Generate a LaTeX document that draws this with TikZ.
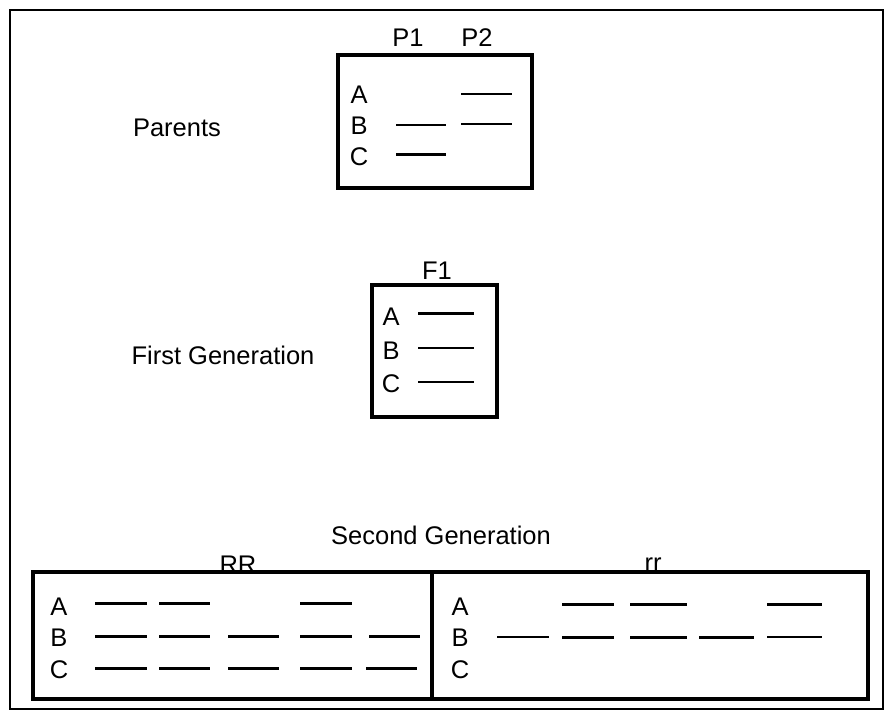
\documentclass[tikz,border=0pt]{standalone}
\usepackage{fontspec}
\setmainfont{Liberation Sans}
\begin{document}
\begin{tikzpicture}[x=1pt,y=-1pt,
  lbl/.style={inner sep=0pt,font=\fontsize{25.5}{28}\selectfont},
  boxline/.style={line width=3.2pt},
  seg/.style={line width=3pt},
  thinseg/.style={line width=2.1pt}]
\useasboundingbox (0,0) rectangle (885,712);
% outer frame
\draw[line width=2.4pt] (10,10) rectangle (883,709);
% Parents
\node[lbl] (parents) at (177,128) {Parents};
\draw[boxline] (338,55) rectangle (532,188);
\node[lbl] (p1) at (408,38) {P1};
\node[lbl] (p2) at (477,38) {P2};
\node[lbl] (pa) at (359,95) {A};
\node[lbl] (pb) at (359,126) {B};
\node[lbl] (pc) at (359,157) {C};
\draw[thinseg] (461,94) -- (512,94);
\draw[thinseg] (461,124) -- (512,124);
\draw[thinseg] (396,125) -- (446,125);
\draw[seg] (396,154) -- (446,154);
% First generation
\node[lbl] (first) at (223,355) {First Generation};
\draw[boxline] (372,285) rectangle (497,417);
\node[lbl] (f1) at (437,271) {F1};
\node[lbl] (fa) at (391,317) {A};
\node[lbl] (fb) at (391,351) {B};
\node[lbl] (fc) at (391,384) {C};
\draw[seg] (418,313) -- (474,313);
\draw[thinseg] (418,348) -- (474,348);
\draw[thinseg] (418,382) -- (474,382);
% Second generation
\node[lbl] (second) at (441,535) {Second Generation};
\node[lbl] (rr1) at (238,565) {RR};
\node[lbl] (rr2) at (653,565) {rr};
\draw[boxline] (33,572) rectangle (868,699);
\draw[boxline] (432,572) -- (432,699);
% RR box
\node[lbl] (ra) at (59,607) {A};
\node[lbl] (rb) at (59,638) {B};
\node[lbl] (rc) at (59,670) {C};
\foreach \a/\b in {95/147,159/210,300/352}
  \draw[seg] (\a,603) -- (\b,603);
\foreach \a/\b in {95/147,159/210,228/279,300/352,369/420}
  \draw[seg] (\a,636) -- (\b,636);
\foreach \a/\b in {95/147,159/210,228/279,300/352,366/417}
  \draw[seg] (\a,668) -- (\b,668);
% rr box
\node[lbl] (sa) at (460,607) {A};
\node[lbl] (sb) at (460,638) {B};
\node[lbl] (sc) at (460,670) {C};
\foreach \a/\b in {562/614,630/687,767/822}
  \draw[seg] (\a,604) -- (\b,604);
\draw[thinseg] (497,637) -- (549,637);
\foreach \a/\b in {562/614,630/687,699/754}
  \draw[seg] (\a,637) -- (\b,637);
\draw[thinseg] (767,637) -- (822,637);
\end{tikzpicture}
\end{document}
